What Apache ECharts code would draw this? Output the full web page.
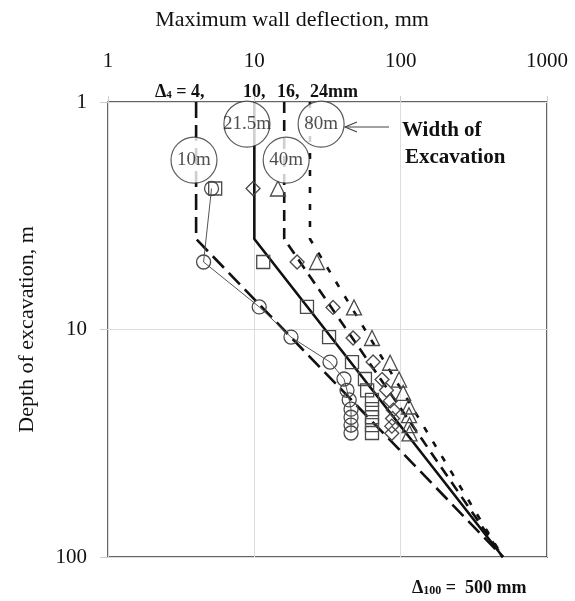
<!DOCTYPE html>
<html><head><meta charset="utf-8">
<script src="https://cdn.jsdelivr.net/npm/echarts@6/dist/echarts.min.js"></script>
<style>html,body{margin:0;padding:0;background:#fff}#c{width:575px;height:601px}</style>
</head><body><div id="c"></div>
<script>
// ---- data ----
const xTicks = [1, 10, 100, 1000];
const yTicks = [1, 10, 100];
// design lines: [deflection mm, depth m]
const line4  = [[4, 1], [4, 4], [500, 100]];
const line10 = [[10, 1], [10, 4], [500, 100]];
const line16 = [[16, 1], [16, 4], [500, 100]];
const line24 = [[24, 1], [24, 4], [500, 100]];
// observed points per excavation width
const w10m   = [[5.1,2.4],[4.5,5.05],[10.8,7.96],[17.8,10.8],[32.9,13.9],[41,16.5],[43,18.5],[44.5,20.4],[45.8,22.4],[45.8,24.3],[45.8,26.3],[45.8,28.5]];
const w21m   = [[5.4,2.4],[11.5,5.05],[22.9,7.96],[32.4,10.8],[46.5,13.9],[57,16.5],[59,18.5],[63.7,20.4],[63.7,22.4],[63.7,24.3],[63.7,26.3],[63.7,28.5]];
const w40m   = [[9.8,2.4],[19.6,5.05],[34.5,8.0],[47.3,10.9],[64.8,13.9],[74.6,16.6],[80,18.5],[85,20.6],[89,22.6],[88,24.6],[87,26.6],[87,28.6]];
const w80m   = [[14.5,2.4],[26.8,5.05],[48,8.0],[63.7,10.9],[84.7,14.0],[97.5,16.6],[104,19.0],[114,21.8],[114,23.8],[115,26.3],[115,28.6]];
const widthLabels = ['10m', '21.5m', '40m', '80m'];
const widthLabelAt = [[3.87, 1.8], [8.9, 1.25], [16.5, 1.8], [28.6, 1.25]];

const serif = '"Liberation Serif","Times New Roman",serif';
const chart = echarts.init(document.getElementById('c'), null, {renderer: 'canvas'});
const mk = (sym, size) => ({
  type: 'line', symbol: sym, symbolSize: size, lineStyle: {width: 0, opacity: 0},
  itemStyle: {color: 'rgba(255,255,255,0)', borderColor: '#4a4a4a', borderWidth: 1.3}, z: 5, silent: true
});
const dl = (data, type) => ({
  type: 'line', data, showSymbol: false, symbol: 'none',
  lineStyle: {color: '#111', width: 2.6, type}, z: 3, silent: true
});
chart.setOption({
  animation: false,
  grid: {left: 108, top: 102, right: 28, bottom: 44, show: true, borderColor: '#333', borderWidth: 1.5},
  xAxis: {
    type: 'log', logBase: 10, min: 1, max: 1000, position: 'top',
    axisLine: {show: false},
    axisTick: {show: true, length: 6, lineStyle: {color: '#ccc'}},
    axisLabel: {margin: 30, fontFamily: serif, fontSize: 21, color: '#111', formatter: v => String(Math.round(v))},
    splitLine: {show: true, lineStyle: {color: '#ddd', width: 1}},
    minorTick: {show: false}
  },
  yAxis: {
    type: 'log', logBase: 10, min: 1, max: 100, inverse: true,
    axisLine: {show: false},
    axisTick: {show: true, length: 8, lineStyle: {color: '#ccc'}},
    axisLabel: {margin: 21, fontFamily: serif, fontSize: 21, color: '#111', formatter: v => String(Math.round(v))},
    splitLine: {show: true, lineStyle: {color: '#ddd', width: 1}},
    name: 'Depth of excavation, m', nameLocation: 'middle', nameGap: 70, nameRotate: 90,
    nameTextStyle: {fontFamily: serif, fontSize: 22, color: '#111'}
  },
  series: [
    dl(line4, [16, 7]),
    dl(line10, 'solid'),
    dl(line16, [11, 7]),
    dl(line24, [6, 11]),
    Object.assign(mk('circle', 14), {data: w10m, lineStyle: {width: 1, color: '#555'}}),
    Object.assign(mk('rect', 13), {data: w21m}),
    Object.assign(mk('diamond', 14), {data: w40m}),
    Object.assign(mk('triangle', 15), {data: w80m}),
    {
      type: 'scatter', data: widthLabelAt.map((p, i) => [p[0], p[1], widthLabels[i]]),
      symbol: 'circle', symbolSize: 46, z: 10, silent: true,
      itemStyle: {color: '#fff', borderColor: '#333', borderWidth: 1.2},
      label: {show: true, position: 'inside', formatter: p => p.value[2], fontFamily: serif, fontSize: 19, color: '#222'}
    }
  ],
  graphic: [
    {type: 'text', style: {text: 'Maximum wall deflection, mm', x: 292, y: 20, textAlign: 'center', textVerticalAlign: 'middle', font: '22px ' + serif, fill: '#111'}},
    {type: 'text', style: {x: 155, y: 92, textVerticalAlign: 'middle', rich: {b: {font: 'bold 18px ' + serif, fill: '#111'}, s: {font: 'bold 11px ' + serif, fill: '#111', verticalAlign: 'bottom', padding: [6,0,0,0]}}, text: '{b|Δ}{s|4}{b| = 4,}'}},
    {type: 'text', style: {x: 243, y: 92, textVerticalAlign: 'middle', text: '10,', font: 'bold 18px ' + serif, fill: '#111'}},
    {type: 'text', style: {x: 277, y: 92, textVerticalAlign: 'middle', text: '16,', font: 'bold 18px ' + serif, fill: '#111'}},
    {type: 'text', style: {x: 310, y: 92, textVerticalAlign: 'middle', text: '24mm', font: 'bold 18px ' + serif, fill: '#111'}},
    {type: 'text', style: {x: 402, y: 131, textVerticalAlign: 'middle', text: 'Width of', font: 'bold 21px ' + serif, fill: '#111'}},
    {type: 'text', style: {x: 405, y: 158, textVerticalAlign: 'middle', text: 'Excavation', font: 'bold 21px ' + serif, fill: '#111'}},
    {type: 'line', shape: {x1: 389, y1: 127, x2: 345, y2: 127}, style: {stroke: '#444', lineWidth: 1.2}, z: 20},
    {type: 'polyline', shape: {points: [[357, 122], [345, 127], [357, 132]]}, style: {stroke: '#444', lineWidth: 1.2, fill: null}, z: 20},
    {type: 'text', style: {x: 412, y: 588, textVerticalAlign: 'middle', rich: {b: {font: 'bold 18px ' + serif, fill: '#111'}, s: {font: 'bold 12px ' + serif, fill: '#111', padding: [6,0,0,0]}}, text: '{b|Δ}{s|100}{b| =  500 mm}'}}
  ]
});
</script></body></html>
